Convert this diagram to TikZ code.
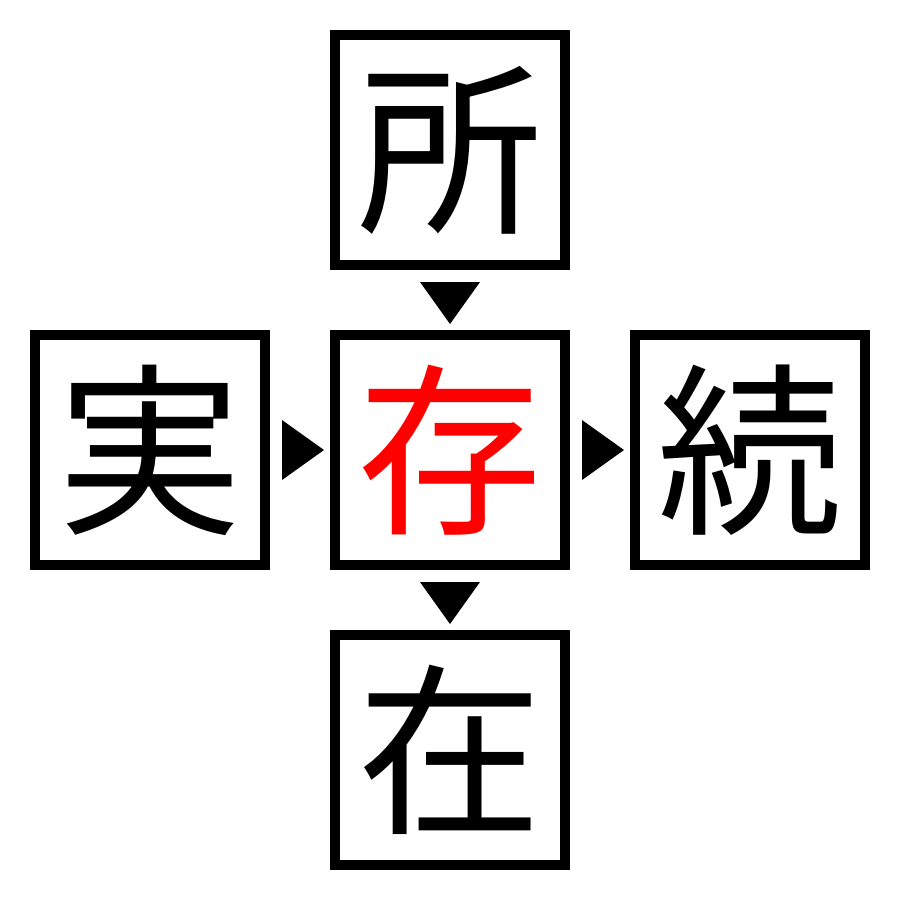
\documentclass[tikz,border=0pt]{standalone}
\usepackage{fontspec}
\usetikzlibrary{calc}
\newfontfamily\cjk{Noto Sans CJK JP}
\begin{document}
\begin{tikzpicture}[x=1pt,y=-1pt,
  kbox/.style={draw=black,line width=10pt,minimum width=230pt,minimum height=230pt,inner sep=0pt,font=\cjk\fontsize{185}{185}\selectfont},
  tri/.style={fill=black,draw=none}]
\useasboundingbox (0,0) rectangle (900,900);
\node[kbox] (top) at (450,150) {所};
\node[kbox] (left) at (150,450) {実};
\node[kbox,text=red] (mid) at (450,450) {存};
\node[kbox] (right) at (750,450) {続};
\node[kbox] (bot) at (450,750) {在};
\path (top.south) -- (mid.north) coordinate[midway] (t1);
\path (left.east) -- (mid.west) coordinate[midway] (t2);
\path (mid.east) -- (right.west) coordinate[midway] (t3);
\path (mid.south) -- (bot.north) coordinate[midway] (t4);
\fill[tri] ($(t1)+(-30,-18)$) -- ($(t1)+(30,-18)$) -- ($(t1)+(0,24)$) -- cycle;
\fill[tri] ($(t4)+(-30,-18)$) -- ($(t4)+(30,-18)$) -- ($(t4)+(0,24)$) -- cycle;
\fill[tri] ($(t2)+(-18,-30)$) -- ($(t2)+(-18,30)$) -- ($(t2)+(24,0)$) -- cycle;
\fill[tri] ($(t3)+(-18,-30)$) -- ($(t3)+(-18,30)$) -- ($(t3)+(24,0)$) -- cycle;
\end{tikzpicture}
\end{document}
